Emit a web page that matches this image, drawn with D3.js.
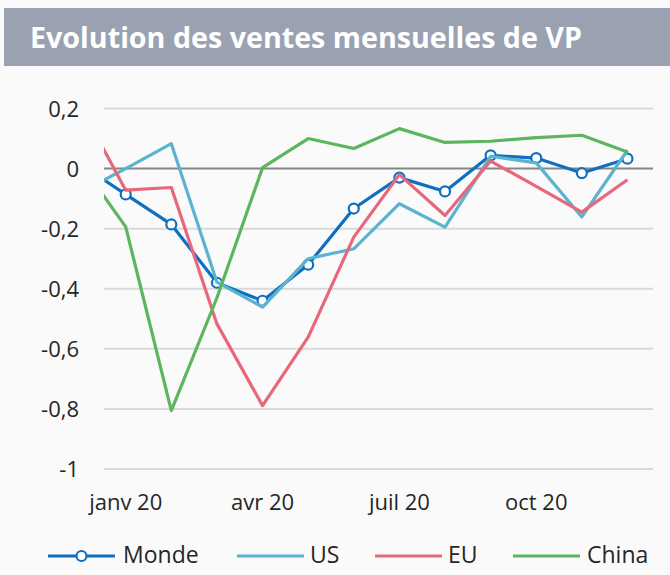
<!DOCTYPE html>
<html>
<head>
<meta charset="utf-8">
<script src="https://cdn.jsdelivr.net/npm/d3@7"></script>
<style>
  html, body { margin: 0; padding: 0; background: #fafafa; }
  svg { display: block; font-family: "Open Sans", sans-serif; }
</style>
</head>
<body>
<div id="chart"></div>
<script>
// month index 0 = déc 19 (partly hidden on the left edge) ... 12 = déc 20
const months = ['déc 19', 'janv 20', 'févr 20', 'mars 20', 'avr 20', 'mai 20', 'juin 20',
                'juil 20', 'août 20', 'sept 20', 'oct 20', 'nov 20', 'déc 20'];
const tickMonths = [1, 4, 7, 10];
const tickLabels = ['janv 20', 'avr 20', 'juil 20', 'oct 20'];
const yTicks = [-1, -0.8, -0.6, -0.4, -0.2, 0, 0.2];

const monde = [0.016, -0.086, -0.186, -0.38, -0.44, -0.32, -0.133, -0.03, -0.076, 0.044, 0.035, -0.015, 0.033];
const us    = [-0.08, 0.0, 0.083, -0.378, -0.461, -0.30, -0.267, -0.117, -0.195, 0.041, 0.019, -0.161, 0.061];
const eu    = [0.21, -0.072, -0.063, -0.517, -0.789, -0.561, -0.228, -0.02, -0.156, 0.025, -0.059, -0.145, -0.037];
const china = [0.02, -0.194, -0.806, -0.43, 0.003, 0.1, 0.067, 0.133, 0.087, 0.091, 0.103, 0.111, 0.055];

const seriesNames = ['Monde', 'US', 'EU', 'China'];
const seriesColors = ['#0f6fc1', '#5bb3cf', '#e8687b', '#5db55f'];

const W = 670, H = 575;
const plot = { left: 104, right: 653, top: 108.5, bottom: 469 };

const svg = d3.select('#chart').append('svg')
    .attr('width', W)
    .attr('height', H);

svg.append('rect').attr('width', W).attr('height', H).attr('fill', '#fafafa');

// title band
svg.append('rect')
    .attr('x', 4).attr('y', 8)
    .attr('width', W - 4).attr('height', 58)
    .attr('fill', '#9aa2b2');

svg.append('text')
    .attr('x', 30).attr('y', 48)
    .attr('fill', '#ffffff')
    .attr('font-size', 29)
    .attr('font-weight', 700)
    .attr('textLength', 552)
    .attr('lengthAdjust', 'spacingAndGlyphs')
    .text('Evolution des ventes mensuelles de VP');

const x = d3.scaleLinear()
    .domain([0.524, 12.56])
    .range([plot.left, plot.right]);

const y = d3.scaleLinear()
    .domain([-1, 0.2])
    .range([plot.bottom, plot.top]);

// gridlines
svg.append('g')
    .selectAll('line')
    .data(yTicks.filter(d => d !== 0))
    .enter()
    .append('line')
    .attr('x1', plot.left).attr('x2', plot.right)
    .attr('y1', d => y(d)).attr('y2', d => y(d))
    .attr('stroke', '#d9d9d9')
    .attr('stroke-width', 2);

svg.append('line')
    .attr('x1', plot.left).attr('x2', plot.right)
    .attr('y1', y(0)).attr('y2', y(0))
    .attr('stroke', '#868686')
    .attr('stroke-width', 2);

// y axis labels
const fmt = d => d3.format('.1~f')(d).replace('.', ',').replace('−', '-');
svg.append('g')
    .selectAll('text')
    .data(yTicks)
    .enter()
    .append('text')
    .attr('x', 79)
    .attr('y', d => y(d))
    .attr('dy', '0.38em')
    .attr('text-anchor', 'end')
    .attr('font-size', 22)
    .attr('fill', '#262626')
    .text(fmt);

// x axis labels
svg.append('g')
    .selectAll('text')
    .data(tickMonths)
    .enter()
    .append('text')
    .attr('x', d => x(d))
    .attr('y', 510)
    .attr('text-anchor', 'middle')
    .attr('font-size', 22)
    .attr('fill', '#262626')
    .text((d, i) => tickLabels[i]);

svg.append('clipPath')
    .attr('id', 'plot-clip')
    .append('rect')
    .attr('x', plot.left).attr('y', 0)
    .attr('width', plot.right - plot.left).attr('height', H);

const line = d3.line()
    .x((d, i) => x(i))
    .y(d => y(d));

const allSeries = [monde, us, eu, china];
const g = svg.append('g').attr('clip-path', 'url(#plot-clip)');

allSeries.forEach((values, k) => {
    g.append('path')
        .datum(values)
        .attr('fill', 'none')
        .attr('stroke', seriesColors[k])
        .attr('stroke-width', 3.2)
        .attr('stroke-linejoin', 'round')
        .attr('d', line);

    if (k === 0) {
        g.selectAll('.dot')
            .data(values)
            .enter()
            .append('circle')
            .attr('class', 'dot')
            .attr('cx', (d, i) => x(i))
            .attr('cy', d => y(d))
            .attr('r', 5)
            .attr('fill', '#ffffff')
            .attr('stroke', seriesColors[0])
            .attr('stroke-width', 2.2);
    }
});

// legend
const legendItems = [
    { x1: 48, x2: 115, tx: 123 },
    { x1: 237, x2: 304, tx: 310 },
    { x1: 375, x2: 442, tx: 448 },
    { x1: 513, x2: 580, tx: 587 }
];
const legendY = 556;

const legend = svg.append('g');
legendItems.forEach((it, k) => {
    legend.append('line')
        .attr('x1', it.x1).attr('x2', it.x2)
        .attr('y1', legendY).attr('y2', legendY)
        .attr('stroke', seriesColors[k])
        .attr('stroke-width', 3.2);
    if (k === 0) {
        legend.append('circle')
            .attr('cx', (it.x1 + it.x2) / 2)
            .attr('cy', legendY)
            .attr('r', 5)
            .attr('fill', '#ffffff')
            .attr('stroke', seriesColors[0])
            .attr('stroke-width', 2.2);
    }
    legend.append('text')
        .attr('x', it.tx)
        .attr('y', 563)
        .attr('font-size', 23)
        .attr('fill', '#262626')
        .text(seriesNames[k]);
});
</script>
</body>
</html>
